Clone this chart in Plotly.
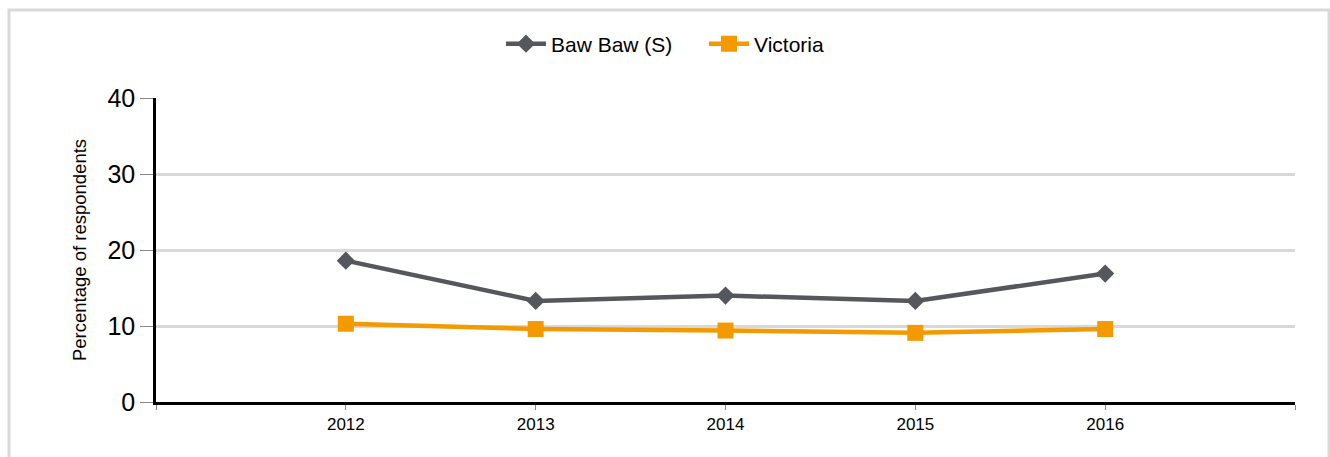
import plotly.graph_objects as go

years = [2012, 2013, 2014, 2015, 2016]
baw_baw = [18.6, 13.3, 14.0, 13.3, 16.9]
victoria = [10.3, 9.6, 9.4, 9.1, 9.6]
series_names = ["Baw Baw (S)", "Victoria"]
y_ticks = [0, 10, 20, 30, 40]
x_tickvals = [2011, 2012, 2013, 2014, 2015, 2016, 2017]
x_ticktext = ["", "2012", "2013", "2014", "2015", "2016", ""]

W, H = 1330, 457
L, R, T, B = 156, 35, 98, 55
pw, ph = W - L - R, H - T - B

def px_x(x):
    return (x - L) / pw

def px_y(y):
    return (H - B - y) / ph

fig = go.Figure()
fig.add_trace(go.Scatter(
    x=years, y=baw_baw, name=series_names[0], mode="lines+markers",
    line=dict(color="#54575c", width=4.5),
    marker=dict(symbol="diamond", size=14, color="#54575c"),
))
fig.add_trace(go.Scatter(
    x=years, y=victoria, name=series_names[1], mode="lines+markers",
    line=dict(color="#f39a00", width=4.5),
    marker=dict(symbol="square", size=16, color="#f39a00"),
))

fig.add_shape(type="rect", xref="paper", yref="paper",
              x0=px_x(9), x1=px_x(1329), y0=px_y(480), y1=px_y(10),
              line=dict(color="#d9d9d9", width=3), fillcolor="rgba(0,0,0,0)",
              layer="below")

fig.update_layout(
    width=W, height=H,
    margin=dict(l=L, r=R, t=T, b=B, autoexpand=False),
    paper_bgcolor="white", plot_bgcolor="white",
    font=dict(family="Liberation Sans, Arial, sans-serif", color="#000000"),
    showlegend=True,
    legend=dict(orientation="h", x=px_x(501), xanchor="left",
                y=px_y(44), yanchor="middle", font=dict(size=21),
                itemwidth=40, entrywidth=148, bgcolor="rgba(0,0,0,0)"),
    xaxis=dict(range=[2011, 2017], tickmode="array", tickvals=x_tickvals,
               ticktext=x_ticktext, showgrid=False, zeroline=False,
               showline=True, linecolor="#000000", linewidth=2.5,
               ticks="outside", ticklen=5, tickcolor="#888888", tickwidth=1,
               tickfont=dict(size=17, color="#000000")),
    yaxis=dict(range=[0, 40], tickmode="array", tickvals=y_ticks,
               showgrid=True, gridcolor="#d9d9d9", gridwidth=2.5,
               zeroline=False, showline=True, linecolor="#000000", linewidth=2.5,
               ticks="outside", ticklen=13, tickcolor="#888888", tickwidth=1,
               tickfont=dict(size=25, color="#000000"),
               title=dict(text="Percentage of respondents", standoff=16,
                          font=dict(size=18.5, color="#000000"))),
)

fig.write_html("out.html", config={"displayModeBar": False},
               post_script="document.body.style.margin='0';")
